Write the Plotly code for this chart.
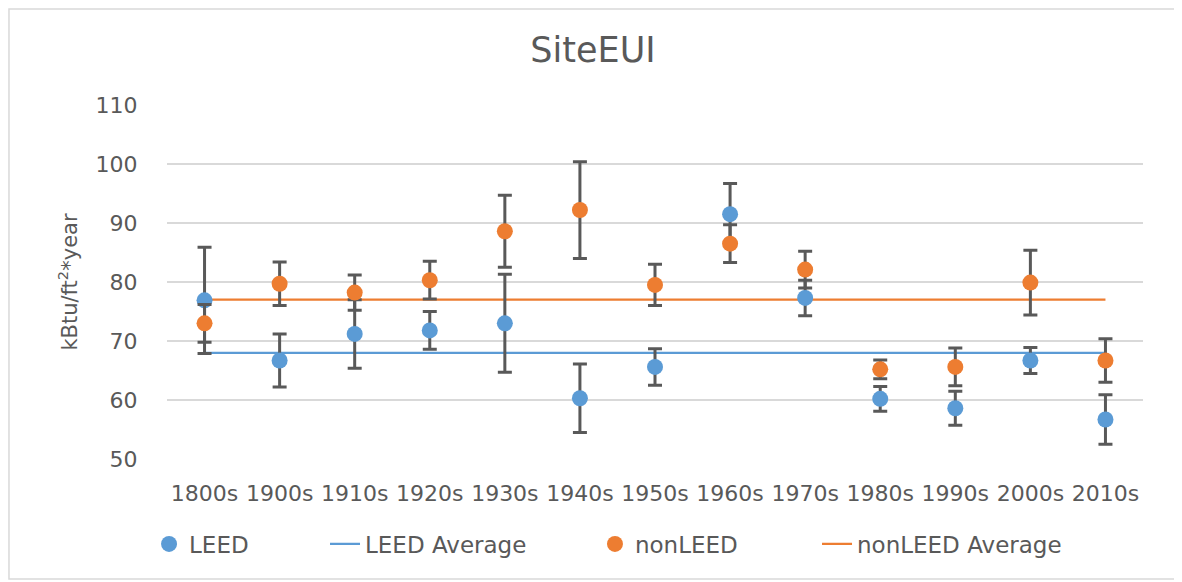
import plotly.graph_objects as go

# decades of construction
decades = ['1800s', '1900s', '1910s', '1920s', '1930s', '1940s', '1950s',
           '1960s', '1970s', '1980s', '1990s', '2000s', '2010s']

# site EUI means and error bar half widths (kBtu/ft2*year)
leed = [76.9, 66.7, 71.2, 71.8, 73.0, 60.3, 65.6, 91.5, 77.3, 60.2, 58.6, 66.7, 56.7]
leed_err = [9.0, 4.5, 5.8, 3.2, 8.3, 5.8, 3.1, 5.2, 3.0, 2.1, 2.9, 2.2, 4.2]
nonleed = [73.0, 79.7, 78.2, 80.3, 88.6, 92.2, 79.5, 86.5, 82.1, 65.2, 65.6, 79.9, 66.7]
nonleed_err = [3.2, 3.7, 3.0, 3.2, 6.1, 8.2, 3.5, 3.2, 3.1, 1.6, 3.2, 5.5, 3.7]

leed_avg = 68.0
nonleed_avg = 77.0

BLUE = '#5B9BD5'
ORANGE = '#ED7D31'
GREY = '#595959'
FONT = 'DejaVu Sans'

fig = go.Figure()

# average lines first so the dots sit on top
fig.add_trace(go.Scatter(x=[decades[0], decades[-1]], y=[leed_avg, leed_avg],
                         mode='lines', name='LEED Average', legend='legend2',
                         line=dict(color=BLUE, width=2.2)))
fig.add_trace(go.Scatter(x=[decades[0], decades[-1]], y=[nonleed_avg, nonleed_avg],
                         mode='lines', name='nonLEED Average', legend='legend4',
                         line=dict(color=ORANGE, width=2.2)))

fig.add_trace(go.Scatter(x=decades, y=leed, mode='markers', name='LEED', legend='legend',
                         marker=dict(color=BLUE, size=16),
                         error_y=dict(type='data', array=leed_err, visible=True,
                                      color=GREY, thickness=3, width=7)))
fig.add_trace(go.Scatter(x=decades, y=nonleed, mode='markers', name='nonLEED', legend='legend3',
                         marker=dict(color=ORANGE, size=16),
                         error_y=dict(type='data', array=nonleed_err, visible=True,
                                      color=GREY, thickness=3, width=7)))

leg_font = dict(family=FONT, size=23, color=GREY)


def leg(x):
    return dict(orientation='h', x=x, xanchor='left', y=-0.24, yanchor='middle',
                font=leg_font, bgcolor='rgba(0,0,0,0)')


# the page body has an 8px margin, so the figure is 8px smaller and shifted
fig.update_layout(
    width=1174, height=574,
    margin=dict(l=159, r=39, t=97, b=123),
    paper_bgcolor='white', plot_bgcolor='white',
    font=dict(family=FONT, color=GREY, size=21),
    title=dict(text='SiteEUI', x=0.4983, xref='container', xanchor='center',
               y=0.9268, yref='container', yanchor='middle',
               font=dict(family=FONT, size=35, color=GREY)),
    legend=leg(-0.0184),
    legend2=leg(0.1619),
    legend3=leg(0.4385),
    legend4=leg(0.666),
    showlegend=True,
)

fig.update_xaxes(type='category', categoryorder='array', categoryarray=decades,
                 showgrid=False, zeroline=False, showline=False,
                 ticks='outside', ticklen=15, tickcolor='rgba(0,0,0,0)',
                 tickfont=dict(family=FONT, size=22, color=GREY),
                 range=[-0.5, len(decades) - 0.5])
fig.update_yaxes(range=[50, 110], dtick=10, showgrid=True, gridcolor='#D9D9D9', gridwidth=1.5,
                 zeroline=False, showline=False,
                 ticks='outside', ticklen=24, tickcolor='rgba(0,0,0,0)',
                 tickfont=dict(family=FONT, size=22, color=GREY),
                 title=dict(text='kBtu/ft<sup>2</sup>*year', standoff=12,
                            font=dict(family=FONT, size=21, color=GREY)))

# outer chart border
fig.add_shape(type='rect', xref='paper', yref='paper',
              x0=-0.1619, x1=1.0359, y0=-0.339, y1=1.271,
              line=dict(color='#D9D9D9', width=1.5), layer='below')

fig.write_html('out.html')
